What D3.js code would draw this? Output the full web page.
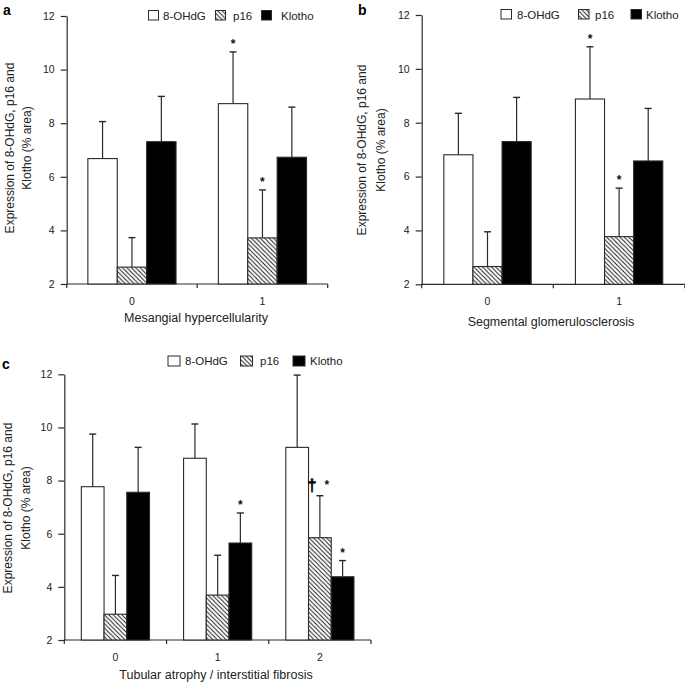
<!DOCTYPE html>
<html><head><meta charset="utf-8">
<script src="https://cdn.jsdelivr.net/npm/d3@7"></script>
<style>
html,body{margin:0;padding:0;background:#fff;}
svg{display:block;font-family:"Liberation Sans",Arial,Helvetica,sans-serif;}
</style></head>
<body>
<script>
// ---------- DATA ----------
const series = ["8-OHdG", "p16", "Klotho"];
const yTicks = [2, 4, 6, 8, 10, 12];

// Panel a: Mesangial hypercellularity
const catsA = ["0", "1"];
const a_ohdg = [6.68, 8.73], a_ohdg_err = [8.06, 10.66];
const a_p16 = [2.63, 3.72],  a_p16_err = [3.73, 5.51];
const a_klotho = [7.31, 6.73], a_klotho_err = [9.00, 8.60];
const a_marks = [{g: 1, s: 0, t: "*"}, {g: 1, s: 1, t: "*"}];

// Panel b: Segmental glomerulosclerosis
const catsB = ["0", "1"];
const b_ohdg = [6.81, 8.88], b_ohdg_err = [8.35, 10.82];
const b_p16 = [2.66, 3.77],  b_p16_err = [3.95, 5.57];
const b_klotho = [7.30, 6.58], b_klotho_err = [8.94, 8.53];
const b_marks = [{g: 1, s: 0, t: "*"}, {g: 1, s: 1, t: "*"}];

// Panel c: Tubular atrophy / interstitial fibrosis
const catsC = ["0", "1", "2"];
const c_ohdg = [7.77, 8.84, 9.25], c_ohdg_err = [9.75, 10.13, 11.97];
const c_p16 = [2.97, 3.69, 5.85],  c_p16_err = [4.43, 5.19, 7.43];
const c_klotho = [7.56, 5.65, 4.38], c_klotho_err = [9.25, 6.78, 4.99];
const c_marks = [{g: 1, s: 2, t: "*"}, {g: 2, s: 1, t: "†"}, {g: 2, s: 1, t: "*"}, {g: 2, s: 2, t: "*"}];

// ---------- DRAW ----------
const W = 685, H = 684;
const svg = d3.select("body").append("svg").attr("width", W).attr("height", H);
const INK = "#2a2a2a";

const defs = svg.append("defs");
const pat = defs.append("pattern").attr("id", "hatch").attr("patternUnits", "userSpaceOnUse")
  .attr("width", 4.4).attr("height", 4.4);
pat.append("rect").attr("width", 4.4).attr("height", 4.4).attr("fill", "#fff");
pat.append("path").attr("d", "M-1,-1 L5.4,5.4 M-1,3.4 L1,5.4 M3.4,-1 L5.4,1")
  .attr("stroke", "#111").attr("stroke-width", 0.9);

const fills = ["#fff", "url(#hatch)", "#000"];

function panel(cfg) {
  const g = svg.append("g");
  const x = d3.scaleBand().domain(cfg.cats).range(cfg.xr);
  const xi = d3.scaleBand().domain(series).range([0, x.bandwidth()]).paddingOuter(cfg.po).paddingInner(0);
  const y = d3.scaleLinear().domain([2, 12]).range(cfg.yr);

  // y axis
  const ya = g.append("g").attr("transform", `translate(${cfg.xr[0]},0)`)
    .call(d3.axisLeft(y).tickValues(yTicks).tickSize(6).tickSizeOuter(0).tickPadding(6));
  ya.selectAll("path,line").attr("stroke", INK).attr("stroke-width", 1.2);
  ya.selectAll("text").attr("font-size", 10.5).attr("fill", "#222")
    .attr("font-family", "Liberation Sans, Arial, sans-serif");

  // x axis line with boundary ticks
  const y0 = y(2);
  g.append("line").attr("x1", cfg.xr[0]).attr("x2", cfg.xr[1]).attr("y1", y0).attr("y2", y0)
    .attr("stroke", INK).attr("stroke-width", 1.2);
  const bounds = cfg.cats.map(c => x(c)).concat([x(cfg.cats[cfg.cats.length - 1]) + x.bandwidth()]);
  g.selectAll(".xt").data(bounds).join("line")
    .attr("x1", d => d).attr("x2", d => d).attr("y1", y0).attr("y2", y0 + 4)
    .attr("stroke", INK).attr("stroke-width", 1.2);
  g.selectAll(".xl").data(cfg.cats).join("text")
    .attr("x", d => x(d) + x.bandwidth() / 2).attr("y", y0 + 17)
    .attr("text-anchor", "middle").attr("dominant-baseline", "central")
    .attr("font-size", 10.5).attr("fill", "#222").text(d => d);

  // bars
  const rows = [];
  cfg.cats.forEach((c, gi) => series.forEach((s, si) => {
    rows.push({c, gi, s, si, v: cfg.vals[si][gi], e: cfg.errs[si][gi]});
  }));
  const bx = d => x(d.c) + xi(d.s);
  g.selectAll(".eb").data(rows).join("line")
    .attr("x1", d => bx(d) + xi.bandwidth() / 2).attr("x2", d => bx(d) + xi.bandwidth() / 2)
    .attr("y1", d => y(d.v)).attr("y2", d => y(d.e))
    .attr("stroke", INK).attr("stroke-width", 1.2);
  g.selectAll(".cap").data(rows).join("line")
    .attr("x1", d => bx(d) + xi.bandwidth() / 2 - 3.5).attr("x2", d => bx(d) + xi.bandwidth() / 2 + 3.5)
    .attr("y1", d => y(d.e)).attr("y2", d => y(d.e))
    .attr("stroke", INK).attr("stroke-width", 1.4);
  g.selectAll(".bar").data(rows).join("rect")
    .attr("x", d => bx(d)).attr("y", d => y(d.v))
    .attr("width", xi.bandwidth()).attr("height", d => y(2) - y(d.v))
    .attr("fill", d => fills[d.si]).attr("stroke", INK).attr("stroke-width", 1.1);

  // significance marks
  cfg.marks.forEach(m => {
    const c = cfg.cats[m.g], s = series[m.s];
    const cx = x(c) + xi(s) + xi.bandwidth() / 2;
    const ey = y(cfg.errs[m.s][m.g]);
    let dx = 0;
    const twin = cfg.marks.filter(o => o.g === m.g && o.s === m.s);
    if (twin.length > 1) dx = (twin.indexOf(m) === 0 ? -8 : 7);
    if (m.t === "†") {
      g.append("text").attr("x", cx + dx).attr("y", ey - 5).attr("text-anchor", "middle")
        .attr("font-family", "Liberation Sans, Arial, sans-serif").attr("font-weight", "bold")
        .attr("font-size", 17).attr("fill", "#000").attr("stroke", "#000").attr("stroke-width", 0.4)
        .style("text-rendering", "geometricPrecision").text(m.t);
    } else {
      g.append("text").attr("x", cx + dx).attr("y", ey + (twin.length > 1 ? -1 : 2) - 6).attr("text-anchor", "middle")
        .attr("font-size", 12).attr("font-weight", "bold").attr("fill", "#111").text(m.t);
    }
  });

  // axis title
  g.append("text").attr("x", cfg.title[1]).attr("y", cfg.title[2]).attr("text-anchor", "middle")
    .attr("dominant-baseline", "central").attr("font-size", 12.5).attr("fill", "#222").text(cfg.title[0]);

  // y label (two lines)
  const yl = ["Expression of 8-OHdG, p16 and", "Klotho (% area)"];
  yl.forEach((t, i) => {
    g.append("text").attr("transform", `translate(${cfg.ylx[i]},${cfg.yly}) rotate(-90)`)
      .attr("text-anchor", "middle").attr("dominant-baseline", "central")
      .attr("font-size", 12).attr("fill", "#222").text(t);
  });

  // panel letter
  g.append("text").attr("x", cfg.letter[1]).attr("y", cfg.letter[2]).attr("dominant-baseline", "central")
    .attr("font-size", 14).attr("font-weight", "bold").attr("fill", "#000").text(cfg.letter[0]);

  // legend
  cfg.leg.boxes.forEach((bxp, i) => {
    g.append("rect").attr("x", bxp).attr("y", cfg.leg.y - 5).attr("width", cfg.leg.bw).attr("height", cfg.leg.bh)
      .attr("fill", fills[i]).attr("stroke", INK).attr("stroke-width", 1);
    g.append("text").attr("x", cfg.leg.texts[i]).attr("y", cfg.leg.y).attr("dominant-baseline", "central")
      .attr("font-size", 11.5).attr("fill", "#222").text(series[i]);
  });
}

panel({
  cats: catsA, xr: [66.7, 327.7], yr: [284, 16], po: 0.72,
  vals: [a_ohdg, a_p16, a_klotho], errs: [a_ohdg_err, a_p16_err, a_klotho_err], marks: a_marks,
  title: ["Mesangial hypercellularity", 196, 318],
  ylx: [10, 27], yly: 148, letter: ["a", 3, 10],
  leg: {y: 15.5, bw: 10, bh: 9.5, boxes: [148.5, 215.5, 261.5], texts: [163, 233, 281]}
});
panel({
  cats: catsB, xr: [421.7, 684.9], yr: [284.3, 15], po: 0.76,
  vals: [b_ohdg, b_p16, b_klotho], errs: [b_ohdg_err, b_p16_err, b_klotho_err], marks: b_marks,
  title: ["Segmental glomerulosclerosis", 551, 322],
  ylx: [362, 381], yly: 150, letter: ["b", 358, 10],
  leg: {y: 14.5, bw: 10.5, bh: 9.5, boxes: [501, 578.5, 631], texts: [517, 595, 646]}
});
panel({
  cats: catsC, xr: [64.3, 371], yr: [640, 374.3], po: 0.75,
  vals: [c_ohdg, c_p16, c_klotho], errs: [c_ohdg_err, c_p16_err, c_klotho_err], marks: c_marks,
  title: ["Tubular atrophy / interstitial fibrosis", 216, 675],
  ylx: [8, 26], yly: 508, letter: ["c", 2, 364],
  leg: {y: 361, bw: 12, bh: 10, boxes: [168, 240.5, 293], texts: [185, 260, 310]}
});
</script>
</body></html>
